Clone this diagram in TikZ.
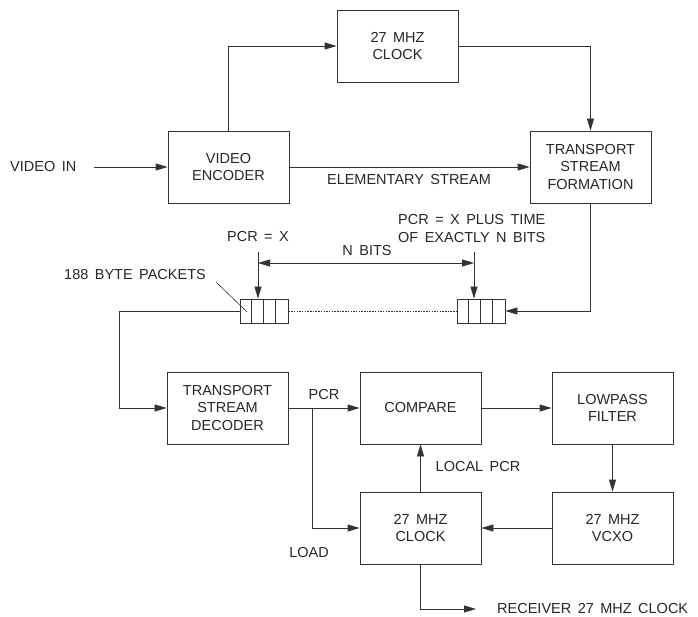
\documentclass[tikz,border=0pt]{standalone}
\usepackage{fontspec}
\setmainfont{Liberation Sans}[WordSpace={1.6,1,1}]
\usetikzlibrary{arrows.meta}
\begin{document}
\begin{tikzpicture}[x=1pt,y=-1pt,
  every node/.style={font=\fontsize{14.5}{17.5}\selectfont, text=black!85},
  blk/.style={draw=black!80, line width=0.8pt, minimum width=121pt, minimum height=72pt, align=center, inner sep=0pt},
  pkt/.style={draw=black!80, line width=0.8pt, minimum width=48pt, minimum height=24pt, inner sep=0pt},
  lbl/.style={inner sep=0pt, align=center},
  ln/.style={draw=black!80, line width=0.8pt},
  con/.style={ln, -{Triangle[length=12pt,width=7pt]}},
  dcon/.style={ln, {Triangle[length=12pt,width=7pt]}-{Triangle[length=12pt,width=7pt]}}]
\useasboundingbox (0,0) rectangle (698,617);
% top blocks
\node[blk] (clk1) at (397.5,46) {27 MHZ\\CLOCK};
\node[blk] (enc) at (228.5,167) {VIDEO\\ENCODER};
\node[blk] (tsf) at (590.5,167) {TRANSPORT\\STREAM\\FORMATION};
\node[lbl, anchor=west] (vin) at (10,167) {VIDEO IN};
\draw[con] ([xshift=18pt]vin.east) -- (enc.west);
\draw[con] (enc.north) |- (clk1.west);
\draw[con] (clk1.east) -| (tsf.north);
\draw[con] (enc.east) -- (tsf.west);
\node[lbl] (es) at (409,180) {ELEMENTARY STREAM};
% packets
\node[pkt] (p1) at (264,311) {};
\node[pkt] (p2) at (481,311) {};
\foreach \i in {1,2,3} {
  \draw[ln] ([xshift={12pt*\i}]p1.north west) -- ([xshift={12pt*\i}]p1.south west);
  \draw[ln] ([xshift={12pt*\i}]p2.north west) -- ([xshift={12pt*\i}]p2.south west);
}
\draw[draw=black!80, line width=0.6pt, dash pattern=on 1.5pt off 1.2pt] (p1.east) -- (p2.west);
\draw[con] (tsf.south) |- (p2.east);
\node[lbl] (pcrx) at (258,237) {PCR = X};
\node[lbl, anchor=west, align=left] (pcrn) at (398,228.5) {PCR = X PLUS TIME\\OF EXACTLY N BITS};
\coordinate (t1) at (258,252);
\coordinate (t2) at (474,252);
\draw[con] (t1) -- (t1 |- p1.north);
\draw[con] (t2) -- (t2 |- p2.north);
\coordinate (n1) at (258,263);
\coordinate (n2) at (474,263);
\draw[dcon] (n1) -- (n2);
\node[lbl] (nb) at (367,251) {N BITS};
\node[lbl] (bp) at (135,275) {188 BYTE PACKETS};
\coordinate (l1) at (216,282);
\coordinate (l2) at (247,312);
\draw[draw=black!80, line width=0.6pt] (l1) -- (l2);
% bottom blocks
\node[blk] (tsd) at (227.5,408) {TRANSPORT\\STREAM\\DECODER};
\node[blk] (cmp) at (420.5,408) {COMPARE};
\node[blk] (lpf) at (612.5,408) {LOWPASS\\FILTER};
\node[blk] (clk2) at (420.5,528) {27 MHZ\\CLOCK};
\node[blk] (vcxo) at (612.5,528) {27 MHZ\\VCXO};
\coordinate (lft) at (119,311);
\draw[con] (p1.west) -- (lft) |- (tsd.west);
\draw[con] (tsd.east) -- (cmp.west);
\node[lbl] (pcr) at (324,395) {PCR};
\coordinate (j) at (312,408);
\draw[con] (j) |- (clk2.west);
\node[lbl] (load) at (309,553) {LOAD};
\draw[con] (clk2.north) -- (cmp.south);
\node[lbl] (lpcr) at (478,467) {LOCAL PCR};
\draw[con] (cmp.east) -- (lpf.west);
\draw[con] (lpf.south) -- (vcxo.north);
\draw[con] (vcxo.west) -- (clk2.east);
\node[lbl, anchor=west] (rcv) at (497,609) {RECEIVER 27 MHZ CLOCK};
\draw[con] (clk2.south) |- ([xshift=-21pt]rcv.west);
\end{tikzpicture}
\end{document}
